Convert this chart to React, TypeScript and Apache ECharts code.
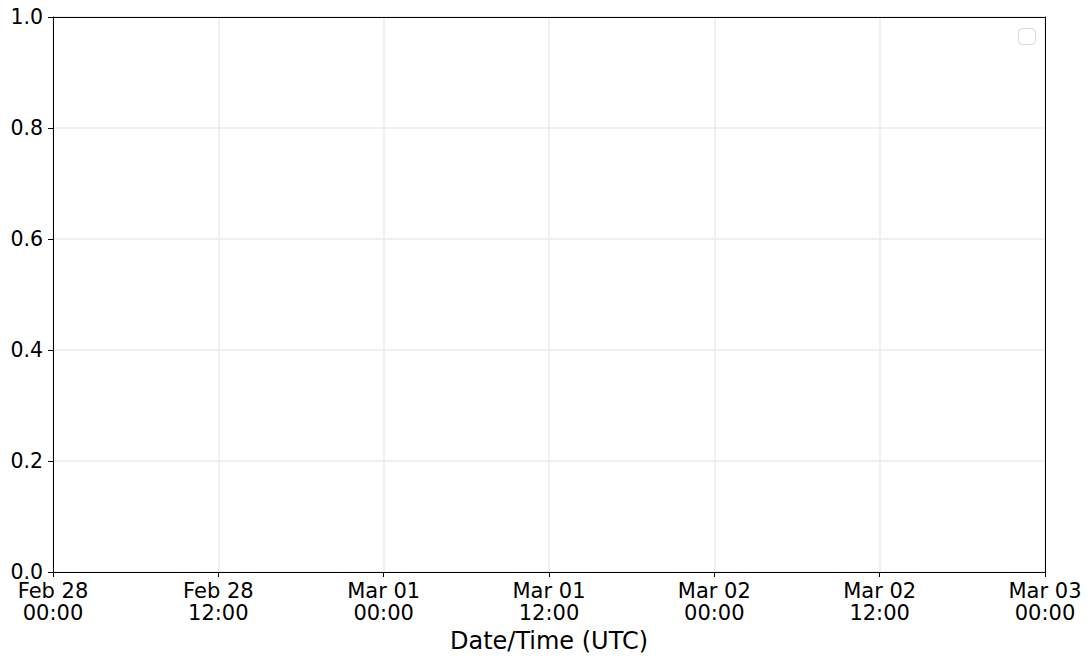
import React, { useEffect, useRef } from "react";
import * as echarts from "echarts";

const xStart = Date.UTC(2023, 1, 28, 0, 0);
const xEnd = Date.UTC(2023, 2, 3, 0, 0);
const xInterval = 12 * 3600 * 1000;
const monthNames = ["Jan", "Feb", "Mar", "Apr", "May", "Jun", "Jul", "Aug", "Sep", "Oct", "Nov", "Dec"];
const yTicks = [0, 0.2, 0.4, 0.6, 0.8, 1.0];
const seriesData: [number, number][] = [];

const pad = (n: number) => (n < 10 ? "0" + n : "" + n);
const fmtX = (v: number) => {
  const d = new Date(v);
  return `${monthNames[d.getUTCMonth()]} ${pad(d.getUTCDate())}\n${pad(d.getUTCHours())}:${pad(d.getUTCMinutes())}`;
};

export default function App() {
  const ref = useRef<HTMLDivElement>(null);
  useEffect(() => {
    if (!ref.current) return;
    const chart = echarts.init(ref.current, null, { renderer: "svg" });
    const font = "DejaVu Sans";
    const frameLine = { show: true, onZero: false, lineStyle: { color: "#000", width: 1 } };
    const gridLine = { show: true, lineStyle: { color: "#ebebeb", width: 1.5 } };
    chart.setOption({
      animation: false,
      backgroundColor: "#ffffff",
      grid: { left: 53, top: 17, right: 46, bottom: 91, containLabel: false },
      xAxis: [
        {
          type: "value",
          min: xStart,
          max: xEnd,
          interval: xInterval,
          name: "Date/Time (UTC)",
          nameLocation: "middle",
          nameGap: 57,
          nameTextStyle: { fontFamily: font, fontSize: 24, color: "#000" },
          axisLine: frameLine,
          axisTick: { show: true, length: 5, lineStyle: { color: "#000" } },
          axisLabel: {
            formatter: (v: number) => fmtX(v),
            fontFamily: font,
            fontSize: 21,
            color: "#000",
            lineHeight: 22,
            margin: 8,
            showMinLabel: true,
            showMaxLabel: true,
          },
          splitLine: gridLine,
        },
        {
          type: "value",
          position: "top",
          min: xStart,
          max: xEnd,
          interval: xInterval,
          axisLine: frameLine,
          axisTick: { show: false },
          axisLabel: { show: false },
          splitLine: { show: false },
        },
      ],
      yAxis: [
        {
          type: "value",
          min: yTicks[0],
          max: yTicks[yTicks.length - 1],
          interval: 0.2,
          axisLine: frameLine,
          axisTick: { show: true, length: 5, lineStyle: { color: "#000" } },
          axisLabel: {
            formatter: (v: number) => v.toFixed(1),
            fontFamily: font,
            fontSize: 20.5,
            color: "#000",
            margin: 10,
          },
          splitLine: gridLine,
        },
        {
          type: "value",
          position: "right",
          min: yTicks[0],
          max: yTicks[yTicks.length - 1],
          interval: 0.2,
          axisLine: frameLine,
          axisTick: { show: false },
          axisLabel: { show: false },
          splitLine: { show: false },
        },
      ],
      graphic: [
        {
          type: "rect",
          left: 1018,
          top: 28,
          shape: { width: 17, height: 16, r: 4 },
          style: { fill: "#ffffff", stroke: "#d6d6d6", lineWidth: 1 },
          silent: true,
          z: 11,
        },
      ],
      series: [{ type: "line", data: seriesData, showSymbol: false }],
    });
    return () => chart.dispose();
  }, []);
  return (
    <div
      ref={ref}
      style={{ position: "fixed", left: 0, top: 0, width: 1091, height: 663, background: "#fff" }}
    />
  );
}
